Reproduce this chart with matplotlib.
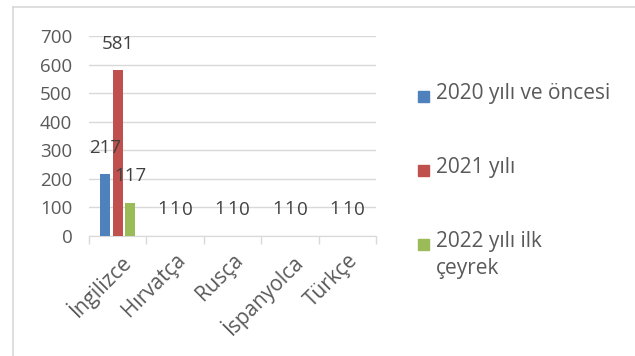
import matplotlib
matplotlib.use("Agg")
import matplotlib.pyplot as plt
from matplotlib.lines import Line2D
from matplotlib.patches import Rectangle
import numpy as np

plt.rcParams["font.family"] = ["Open Sans", "DejaVu Sans"]

languages = ["İngilizce", "Hırvatça", "Rusça", "İspanyolca", "Türkçe"]
series_names = ["2020 yılı ve öncesi", "2021 yılı", "2022 yılı ilk\nçeyrek"]
before_2020 = [217, 1, 1, 1, 1]
year_2021 = [581, 1, 1, 1, 1]
q1_2022 = [117, 0, 0, 0, 0]
series_values = [before_2020, year_2021, q1_2022]
colors = ["#4f81bd", "#c0504d", "#9bbb59"]
yticks = [0, 100, 200, 300, 400, 500, 600, 700]

NUM_FS = 13.5   # numbers
TXT_FS = 15     # words
W, H = 635, 356
fig = plt.figure(figsize=(W / 100, H / 100), dpi=100)
ax = fig.add_axes([89 / W, 1 - 236 / H, (376 - 89) / W, 200 / H])

x = np.arange(len(languages))
bar_w = 0.17
step = 0.215
for i, (vals, col) in enumerate(zip(series_values, colors)):
    pos = x + (i - 1) * step
    ax.bar(pos, vals, width=bar_w, color=col, zorder=3)
    for px, v in zip(pos, vals):
        ax.annotate(str(v), (px, v), xytext=(0, 19), textcoords="offset points",
                    ha="center", va="center", fontsize=NUM_FS, color="#404040",
                    zorder=6)

ax.set_xlim(-0.5, len(languages) - 0.5)
ax.set_ylim(0, 700)
ax.set_yticks(yticks)
ax.set_yticklabels([str(t) for t in yticks], fontsize=NUM_FS, color="#595959")
ax.yaxis.grid(True, color="#d9d9d9", lw=1, zorder=0)
ax.tick_params(axis="y", length=0, pad=12)

ax.set_xticks(x)
ax.set_xticklabels(languages, rotation=45, ha="right", rotation_mode="anchor",
                   fontsize=TXT_FS, color="#595959")
ax.set_xticks(np.arange(-0.5, len(languages)), minor=True)
ax.tick_params(axis="x", which="major", length=0, pad=10)
ax.tick_params(axis="x", which="minor", length=6, color="#d9d9d9", width=1)

for side in ["top", "right", "left"]:
    ax.spines[side].set_visible(False)
ax.spines["bottom"].set_color("#d9d9d9")

# legend on the right, marker aligned with the first text line
legend_y = [96, 170, 244]
for name, col, ly in zip(series_names, colors, legend_y):
    fig.add_artist(Rectangle((418 / W, 1 - (ly + 6) / H), 11 / W, 11 / H,
                             transform=fig.transFigure, color=col))
    fig.text(436 / W, 1 - (ly - 13) / H, name, fontsize=TXT_FS, color="#595959",
             ha="left", va="top", linespacing=1.4)

# chart frame
fig.add_artist(Line2D([13 / W, 1], [1 - 7 / H] * 2, transform=fig.transFigure,
                      color="#d9d9d9", lw=1.2))
fig.add_artist(Line2D([13 / W] * 2, [1 - 7 / H, 0], transform=fig.transFigure,
                      color="#d9d9d9", lw=1.2))

fig.savefig("out.png", dpi=100)
